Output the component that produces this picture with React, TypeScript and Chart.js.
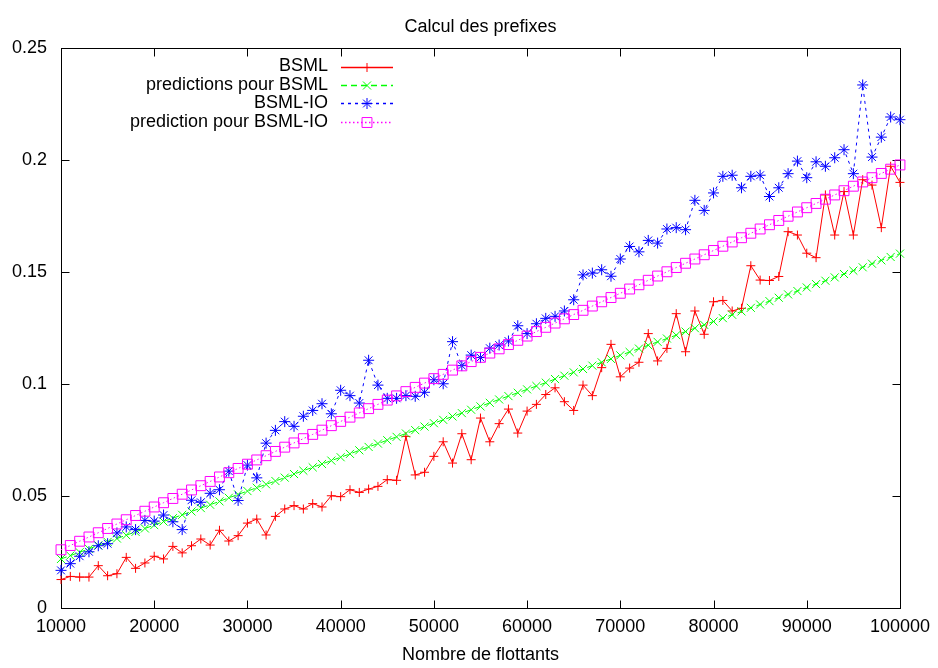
import React, { useEffect, useRef } from "react";
import { Chart, registerables } from "chart.js";
Chart.register(...registerables);

const TITLE = "Calcul des prefixes";
const X_TITLE = "Nombre de flottants";
const LABELS = ["BSML", "predictions pour BSML", "BSML-IO", "prediction pour BSML-IO"];

const N_VALUES = [
  10000, 11000, 12000, 13000, 14000, 15000, 16000, 17000, 18000, 19000,
  20000, 21000, 22000, 23000, 24000, 25000, 26000, 27000, 28000, 29000,
  30000, 31000, 32000, 33000, 34000, 35000, 36000, 37000, 38000, 39000,
  40000, 41000, 42000, 43000, 44000, 45000, 46000, 47000, 48000, 49000,
  50000, 51000, 52000, 53000, 54000, 55000, 56000, 57000, 58000, 59000,
  60000, 61000, 62000, 63000, 64000, 65000, 66000, 67000, 68000, 69000,
  70000, 71000, 72000, 73000, 74000, 75000, 76000, 77000, 78000, 79000,
  80000, 81000, 82000, 83000, 84000, 85000, 86000, 87000, 88000, 89000,
  90000, 91000, 92000, 93000, 94000, 95000, 96000, 97000, 98000, 99000,
  100000,
];

const BSML = [
  0.0127, 0.0141, 0.0138, 0.0138, 0.0189, 0.0144, 0.0153, 0.0226, 0.0177, 0.0201,
  0.0231, 0.0219, 0.0275, 0.0246, 0.0278, 0.0308, 0.0281, 0.0347, 0.0299, 0.0323,
  0.0379, 0.0397, 0.0326, 0.0409, 0.0442, 0.0457, 0.0442, 0.0466, 0.0451, 0.0501,
  0.0497, 0.0528, 0.0516, 0.0531, 0.0543, 0.0573, 0.0570, 0.0766, 0.0594, 0.0606,
  0.0677, 0.0742, 0.0647, 0.0778, 0.0662, 0.0848, 0.0742, 0.0823, 0.0888, 0.0781,
  0.0879, 0.0909, 0.0953, 0.0983, 0.0921, 0.0882, 0.0995, 0.0948, 0.1073, 0.1177,
  0.1032, 0.1071, 0.1097, 0.1225, 0.1103, 0.1159, 0.1314, 0.1144, 0.1326, 0.1222,
  0.1367, 0.1373, 0.1326, 0.1338, 0.1528, 0.1464, 0.1462, 0.1480, 0.1680, 0.1665,
  0.1584, 0.1564, 0.1844, 0.1665, 0.1859, 0.1665, 0.1912, 0.1888, 0.1698, 0.1972,
  0.1900,
];

const PRED_BSML = [
  0.0219, 0.0234, 0.0249, 0.0264, 0.0280, 0.0295, 0.0310, 0.0325, 0.0340, 0.0355,
  0.0370, 0.0386, 0.0401, 0.0416, 0.0431, 0.0446, 0.0461, 0.0476, 0.0492, 0.0507,
  0.0522, 0.0537, 0.0552, 0.0567, 0.0582, 0.0598, 0.0613, 0.0628, 0.0643, 0.0658,
  0.0673, 0.0688, 0.0704, 0.0719, 0.0734, 0.0749, 0.0764, 0.0779, 0.0794, 0.0810,
  0.0825, 0.0840, 0.0855, 0.0870, 0.0885, 0.0900, 0.0916, 0.0931, 0.0946, 0.0961,
  0.0976, 0.0991, 0.1006, 0.1022, 0.1037, 0.1052, 0.1067, 0.1082, 0.1097, 0.1112,
  0.1128, 0.1143, 0.1158, 0.1173, 0.1188, 0.1203, 0.1218, 0.1234, 0.1249, 0.1264,
  0.1279, 0.1294, 0.1309, 0.1324, 0.1340, 0.1355, 0.1370, 0.1385, 0.1400, 0.1415,
  0.1431, 0.1446, 0.1461, 0.1476, 0.1491, 0.1506, 0.1521, 0.1537, 0.1552, 0.1567,
  0.1582,
];

const BSML_IO = [
  0.0168, 0.0198, 0.0231, 0.0251, 0.0278, 0.0287, 0.0335, 0.0362, 0.0350, 0.0391,
  0.0388, 0.0415, 0.0385, 0.0350, 0.0481, 0.0472, 0.0512, 0.0528, 0.0611, 0.0480,
  0.0638, 0.0581, 0.0736, 0.0793, 0.0832, 0.0811, 0.0856, 0.0882, 0.0912, 0.0867,
  0.0972, 0.0948, 0.0915, 0.1106, 0.0995, 0.0936, 0.0936, 0.0948, 0.0945, 0.0963,
  0.1019, 0.1001, 0.1189, 0.1082, 0.1129, 0.1118, 0.1160, 0.1174, 0.1192, 0.1260,
  0.1225, 0.1269, 0.1293, 0.1302, 0.1326, 0.1376, 0.1487, 0.1495, 0.1510, 0.1481,
  0.1558, 0.1614, 0.1590, 0.1641, 0.1629, 0.1692, 0.1698, 0.1689, 0.1820, 0.1775,
  0.1853, 0.1927, 0.1932, 0.1876, 0.1927, 0.1932, 0.1837, 0.1876, 0.1939, 0.1995,
  0.1921, 0.1992, 0.1972, 0.2010, 0.2046, 0.1939, 0.2335, 0.2013, 0.2102, 0.2192,
  0.2180,
];

const PRED_BSML_IO = [
  0.0260, 0.0279, 0.0298, 0.0317, 0.0336, 0.0355, 0.0375, 0.0394, 0.0413, 0.0432,
  0.0451, 0.0470, 0.0489, 0.0508, 0.0527, 0.0546, 0.0565, 0.0585, 0.0604, 0.0623,
  0.0642, 0.0661, 0.0680, 0.0699, 0.0718, 0.0737, 0.0756, 0.0775, 0.0794, 0.0814,
  0.0833, 0.0852, 0.0871, 0.0890, 0.0909, 0.0928, 0.0947, 0.0966, 0.0985, 0.1004,
  0.1024, 0.1043, 0.1062, 0.1081, 0.1100, 0.1119, 0.1138, 0.1157, 0.1176, 0.1195,
  0.1214, 0.1234, 0.1253, 0.1272, 0.1291, 0.1310, 0.1329, 0.1348, 0.1367, 0.1386,
  0.1405, 0.1424, 0.1443, 0.1463, 0.1482, 0.1501, 0.1520, 0.1539, 0.1558, 0.1577,
  0.1596, 0.1615, 0.1634, 0.1653, 0.1673, 0.1692, 0.1711, 0.1730, 0.1749, 0.1768,
  0.1787, 0.1806, 0.1825, 0.1844, 0.1863, 0.1883, 0.1902, 0.1921, 0.1940, 0.1959,
  0.1978,
];

const FONT = '"Liberation Sans", Arial, Helvetica, sans-serif';
const FS = 18;

type Style = { color: string; dash: number[]; point: string; radius: number };
const STYLES: Style[] = [
  { color: "#ff0000", dash: [], point: "cross", radius: 4.5 },
  { color: "#00ff00", dash: [6, 4], point: "crossRot", radius: 5.7 },
  { color: "#0000ff", dash: [3, 4], point: "star", radius: 5.5 },
  { color: "#ff00ff", dash: [1.5, 2.5], point: "rect", radius: 7 },
];
const SERIES = [BSML, PRED_BSML, BSML_IO, PRED_BSML_IO];

function drawMarker(ctx: CanvasRenderingContext2D, style: string, x: number, y: number, r: number) {
  ctx.beginPath();
  const d = r * Math.SQRT1_2;
  if (style === "cross" || style === "star") {
    ctx.moveTo(x - r, y); ctx.lineTo(x + r, y);
    ctx.moveTo(x, y - r); ctx.lineTo(x, y + r);
  }
  if (style === "crossRot" || style === "star") {
    ctx.moveTo(x - d, y - d); ctx.lineTo(x + d, y + d);
    ctx.moveTo(x - d, y + d); ctx.lineTo(x + d, y - d);
  }
  if (style === "rect") {
    ctx.rect(x - d, y - d, 2 * d, 2 * d);
  }
  ctx.stroke();
}

const framePlugin = {
  id: "gnuframe",
  beforeDatasetsDraw(chart: any) {
    const { ctx, chartArea: a, scales } = chart;
    const L = Math.round(a.left) + 0.5, R = Math.round(a.right) + 0.5;
    const T = Math.round(a.top) + 0.5, B = Math.round(a.bottom) + 0.5;
    ctx.save();
    ctx.strokeStyle = "#000";
    ctx.lineWidth = 1;
    ctx.setLineDash([]);
    ctx.strokeRect(L, T, R - L, B - T);
    const tl = 8;
    ctx.beginPath();
    for (const t of scales.x.ticks) {
      const px = Math.round(scales.x.getPixelForValue(t.value)) + 0.5;
      ctx.moveTo(px, B); ctx.lineTo(px, B - tl);
      ctx.moveTo(px, T); ctx.lineTo(px, T + tl);
    }
    for (const t of scales.y.ticks) {
      const py = Math.round(scales.y.getPixelForValue(t.value)) + 0.5;
      ctx.moveTo(L, py); ctx.lineTo(L + tl, py);
      ctx.moveTo(R, py); ctx.lineTo(R - tl, py);
    }
    ctx.stroke();
    ctx.restore();
  },
  afterDraw(chart: any) {
    const { ctx, chartArea: a } = chart;
    const cx = (a.left + a.right) / 2;
    ctx.save();
    ctx.fillStyle = "#000";
    ctx.font = `${FS}px ${FONT}`;
    ctx.textAlign = "center";
    ctx.textBaseline = "middle";
    ctx.fillText(TITLE, cx, 27);
    ctx.fillText(X_TITLE, cx, 655);
    // legend (gnuplot style: text right-aligned, sample to its right)
    const textRight = 328, x0 = 341, x1 = 393, xm = 367;
    LABELS.forEach((lab, i) => {
      const y = 66.5 + i * 18.4;
      const yc = Math.round(y) + 0.5;
      ctx.fillStyle = "#000";
      ctx.textAlign = "right";
      ctx.fillText(lab, textRight, y);
      const s = STYLES[i];
      ctx.strokeStyle = s.color;
      ctx.lineWidth = 1.5;
      ctx.setLineDash(s.dash);
      ctx.beginPath();
      ctx.moveTo(x0, yc);
      ctx.lineTo(x1, yc);
      ctx.stroke();
      ctx.lineWidth = 1;
      ctx.setLineDash([]);
      drawMarker(ctx, s.point, xm, yc, s.radius);
    });
    ctx.restore();
  },
};

export default function App() {
  const ref = useRef<HTMLCanvasElement | null>(null);
  useEffect(() => {
    if (!ref.current) return;
    const datasets = SERIES.map((vals, i) => ({
      label: LABELS[i],
      data: N_VALUES.map((n, j) => ({ x: n, y: vals[j] })),
      borderColor: STYLES[i].color,
      borderWidth: 1,
      borderDash: STYLES[i].dash,
      pointStyle: STYLES[i].point,
      pointRadius: STYLES[i].radius,
      pointBorderColor: STYLES[i].color,
      pointBackgroundColor: "rgba(0,0,0,0)",
      pointBorderWidth: 1,
      tension: 0,
      fill: false,
      clip: false as any,
      order: 4 - i,
    }));
    const chart = new Chart(ref.current, {
      type: "line",
      data: { datasets },
      plugins: [framePlugin],
      options: {
        responsive: false,
        animation: false,
        layout: { padding: { top: 48, right: 37, left: 0, bottom: 0 } },
        plugins: { legend: { display: false }, title: { display: false }, tooltip: { enabled: false } },
        scales: {
          x: {
            type: "linear",
            min: 10000,
            max: 100000,
            grid: { display: false, drawTicks: false },
            border: { display: false },
            ticks: {
              stepSize: 10000,
              padding: 8,
              color: "#000",
              font: { family: FONT, size: FS },
              maxRotation: 0,
              callback: (v: any) => String(v),
            },
            afterFit: (s: any) => { s.height = 60; },
          },
          y: {
            type: "linear",
            min: 0,
            max: 0.25,
            grid: { display: false, drawTicks: false },
            border: { display: false },
            ticks: {
              stepSize: 0.05,
              padding: 14,
              color: "#000",
              font: { family: FONT, size: FS },
              callback: (v: any) => String(+Number(v).toFixed(2)),
            },
            afterFit: (s: any) => { s.width = 61; },
          },
        },
      },
    });
    return () => chart.destroy();
  }, []);
  return (
    <div style={{ position: "absolute", left: 0, top: 0, width: 938, height: 668, background: "#fff" }}>
      <canvas ref={ref} width={938} height={668} style={{ display: "block" }} />
    </div>
  );
}
